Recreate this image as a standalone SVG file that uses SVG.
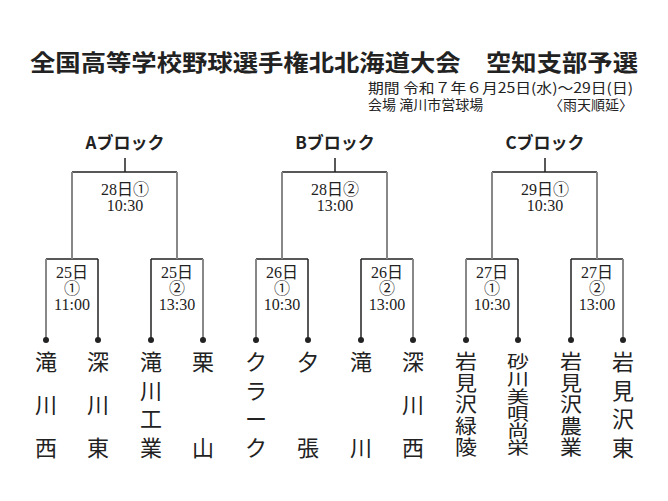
<svg xmlns="http://www.w3.org/2000/svg" width="668" height="501" viewBox="0 0 668 501">
<style>
.t{font-family:"Noto Sans CJK JP",sans-serif;fill:#222}
.s{font-family:"Liberation Serif","Noto Sans CJK JP",serif;fill:#222;font-size:16px;text-anchor:middle}
.n{font-family:"Noto Sans CJK JP",sans-serif;fill:#222;font-size:22px;text-anchor:middle}
.k{stroke:#222;stroke-width:1.5;fill:none}
.g{stroke:#888;stroke-width:2;fill:none}
.d{fill:#222}
</style>
<rect width="668" height="501" fill="#fff"/>
<g id="title">
<text class="t" x="30" y="71" font-size="23" font-weight="bold" textLength="608" lengthAdjust="spacingAndGlyphs">全国高等学校野球選手権北北海道大会　空知支部予選</text>
<text class="t" x="368" y="93" font-size="14" textLength="265" lengthAdjust="spacingAndGlyphs">期間  令和７年６月25日(水)～29日(日)</text>
<text class="t" x="368" y="110" font-size="14">会場  滝川市営球場</text>
<text class="t" x="633" y="110" font-size="14" text-anchor="end">〈雨天順延〉</text>
</g>
<g id="connectors">
<path class="k" d="M125 158V172M72 172H177M46 259H98M151 259H203M98 259V340M151 259V340"/>
<path class="g" d="M72 172V259M177 172V259M46 259V340M203 259V340"/>
<path class="k" d="M335 158V172M282 172H387M256 259H308M361 259H413M308 259V340M361 259V340"/>
<path class="g" d="M282 172V259M387 172V259M256 259V340M413 259V340"/>
<path class="k" d="M545 158V172M492 172H597M466 259H518M571 259H623M518 259V340M571 259V340"/>
<path class="g" d="M492 172V259M597 172V259M466 259V340M623 259V340"/>
<g class="d">
<circle cx="46" cy="340" r="3"/><circle cx="98" cy="340" r="3"/><circle cx="151" cy="340" r="3"/><circle cx="203" cy="340" r="3"/>
<circle cx="256" cy="340" r="3"/><circle cx="308" cy="340" r="3"/><circle cx="361" cy="340" r="3"/><circle cx="413" cy="340" r="3"/>
<circle cx="466" cy="340" r="3"/><circle cx="518" cy="340" r="3"/><circle cx="571" cy="340" r="3"/><circle cx="623" cy="340" r="3"/>
</g>
</g>
<g id="blockA">
<text class="t" x="125" y="149" font-size="17" font-weight="bold" text-anchor="middle">Aブロック</text>
<text class="s" x="125" y="195">28日①</text><text class="s" x="125" y="211">10:30</text>
<text class="s" x="72" y="278">25日</text><text class="s" x="72" y="294">①</text><text class="s" x="72" y="310">11:00</text>
<text class="s" x="177" y="278">25日</text><text class="s" x="177" y="294">②</text><text class="s" x="177" y="310">13:30</text>
</g>
<g id="blockB">
<text class="t" x="335" y="149" font-size="17" font-weight="bold" text-anchor="middle">Bブロック</text>
<text class="s" x="335" y="195">28日②</text><text class="s" x="335" y="211">13:00</text>
<text class="s" x="282" y="278">26日</text><text class="s" x="282" y="294">①</text><text class="s" x="282" y="310">10:30</text>
<text class="s" x="387" y="278">26日</text><text class="s" x="387" y="294">②</text><text class="s" x="387" y="310">13:00</text>
</g>
<g id="blockC">
<text class="t" x="545" y="149" font-size="17" font-weight="bold" text-anchor="middle">Cブロック</text>
<text class="s" x="545" y="195">29日①</text><text class="s" x="545" y="211">10:30</text>
<text class="s" x="492" y="278">27日</text><text class="s" x="492" y="294">①</text><text class="s" x="492" y="310">10:30</text>
<text class="s" x="597" y="278">27日</text><text class="s" x="597" y="294">②</text><text class="s" x="597" y="310">13:00</text>
</g>
<g id="team1"><text class="n" x="46" y="370">滝</text><text class="n" x="46" y="413">川</text><text class="n" x="46" y="456">西</text></g>
<g id="team2"><text class="n" x="98" y="370">深</text><text class="n" x="98" y="413">川</text><text class="n" x="98" y="456">東</text></g>
<g id="team3"><text class="n" x="151" y="370">滝</text><text class="n" x="151" y="399">川</text><text class="n" x="151" y="427">工</text><text class="n" x="151" y="456">業</text></g>
<g id="team4"><text class="n" x="203" y="370">栗</text><text class="n" x="203" y="456">山</text></g>
<g id="team5"><text class="n" x="256" y="370">ク</text><text class="n" x="256" y="399">ラ</text><text class="n" x="256" y="427">ー</text><text class="n" x="256" y="456">ク</text></g>
<g id="team6"><text class="n" x="308" y="370">夕</text><text class="n" x="308" y="456">張</text></g>
<g id="team7"><text class="n" x="361" y="370">滝</text><text class="n" x="361" y="456">川</text></g>
<g id="team8"><text class="n" x="413" y="370">深</text><text class="n" x="413" y="413">川</text><text class="n" x="413" y="456">西</text></g>
<g id="team9">
<text class="n" transform="translate(466 369) scale(1 0.92)">岩</text>
<text class="n" transform="translate(466 391) scale(1 0.92)">見</text>
<text class="n" transform="translate(466 412) scale(1 0.92)">沢</text>
<text class="n" transform="translate(466 434) scale(1 0.92)">緑</text>
<text class="n" transform="translate(466 455) scale(1 0.92)">陵</text>
</g>
<g id="team10">
<text class="n" transform="translate(518 368) scale(1 0.76)">砂</text>
<text class="n" transform="translate(518 385) scale(1 0.76)">川</text>
<text class="n" transform="translate(518 403) scale(1 0.76)">美</text>
<text class="n" transform="translate(518 420) scale(1 0.76)">唄</text>
<text class="n" transform="translate(518 437) scale(1 0.76)">尚</text>
<text class="n" transform="translate(518 454) scale(1 0.76)">栄</text>
</g>
<g id="team11">
<text class="n" transform="translate(571 369) scale(1 0.92)">岩</text>
<text class="n" transform="translate(571 391) scale(1 0.92)">見</text>
<text class="n" transform="translate(571 412) scale(1 0.92)">沢</text>
<text class="n" transform="translate(571 434) scale(1 0.92)">農</text>
<text class="n" transform="translate(571 455) scale(1 0.92)">業</text>
</g>
<g id="team12"><text class="n" x="623" y="370">岩</text><text class="n" x="623" y="399">見</text><text class="n" x="623" y="427">沢</text><text class="n" x="623" y="456">東</text></g>
</svg>
